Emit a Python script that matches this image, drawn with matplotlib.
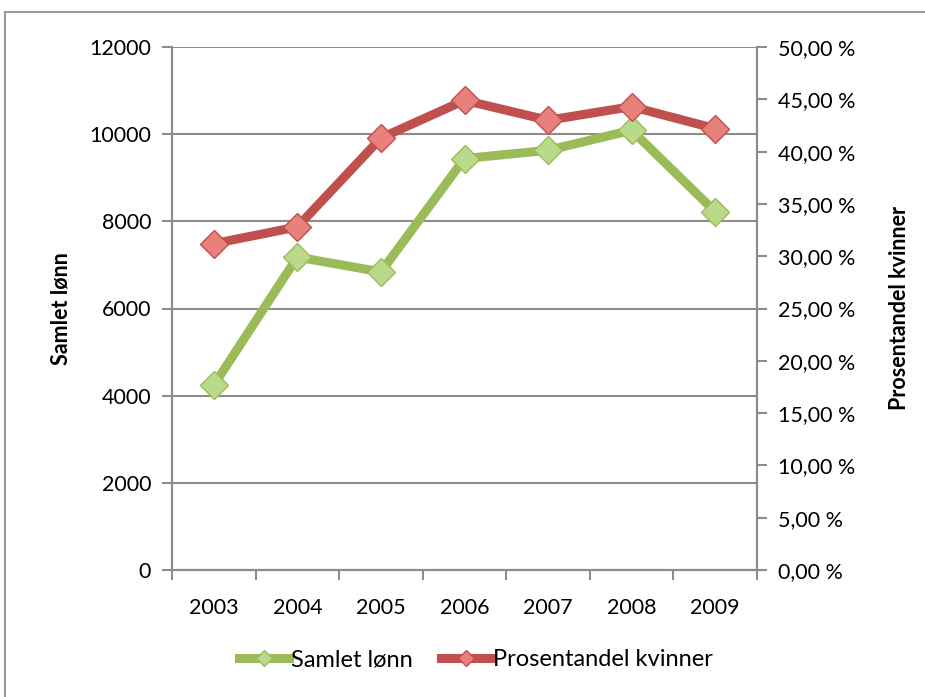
import matplotlib.pyplot as plt
from matplotlib.patches import Rectangle
from matplotlib.ticker import FuncFormatter, FixedLocator

years = ['2003', '2004', '2005', '2006', '2007', '2008', '2009']
samlet_lonn = [4240, 7180, 6840, 9440, 9630, 10090, 8220]
andel_kvinner = [31.2, 32.8, 41.3, 44.9, 43.0, 44.3, 42.2]

plt.rcParams['font.family'] = ['Lato', 'DejaVu Sans']

green = '#9BBB59'
green_face = '#B9D98B'
red = '#C0504D'
red_face = '#E8807C'
grid_col = '#8C8C8C'

fig = plt.figure(figsize=(9.25, 6.97), dpi=100)
# outer chart border
fig.patches.append(Rectangle((5 / 925, -0.1), 1.2, 1.1 - 12 / 697, transform=fig.transFigure,
                             fill=False, edgecolor='#9A9A9A', linewidth=1.5))

ax = fig.add_axes([172 / 925, 1 - 570 / 697, 585 / 925, 523 / 697])
ax2 = ax.twinx()

x = list(range(len(years)))
ax.plot(x, samlet_lonn, color=green, lw=6.5, marker='D', markersize=14,
        markerfacecolor=green_face, markeredgecolor=green, markeredgewidth=1, zorder=3,
        label='Samlet lønn', solid_joinstyle='round')
ax2.plot(x, andel_kvinner, color=red, lw=6.5, marker='D', markersize=14,
         markerfacecolor=red_face, markeredgecolor=red, markeredgewidth=1, zorder=3,
         label='Prosentandel kvinner', solid_joinstyle='round')

ax.set_xlim(-0.5, 6.5)
ax.set_ylim(0, 12000)
ax2.set_ylim(0, 50)
ax.set_yticks(range(0, 12001, 2000))
ax2.set_yticks(range(0, 51, 5))
ax2.yaxis.set_major_formatter(FuncFormatter(lambda v, p: f'{v:.2f} %'.replace('.', ',')))

ax.set_xticks(x)
ax.set_xticklabels(years)
ax.xaxis.set_minor_locator(FixedLocator([i - 0.5 for i in range(8)]))
ax.tick_params(axis='x', which='major', length=0, pad=20, labelsize=15.5)
ax.tick_params(axis='x', which='minor', length=7, width=1.5, color=grid_col, direction='out')
ax.tick_params(axis='y', length=7, width=1.5, color=grid_col, labelsize=15.5, pad=8)
ax2.tick_params(axis='y', length=7, width=1.5, color=grid_col, labelsize=15.5, pad=8)

ax.grid(axis='y', color=grid_col, lw=1.5)
ax.set_axisbelow(True)
for a in (ax, ax2):
    a.spines['top'].set_visible(False)
    for s in ('left', 'right', 'bottom'):
        a.spines[s].set_color(grid_col)
        a.spines[s].set_linewidth(1.5)

ax.set_ylabel('Samlet lønn', fontsize=15.5, fontweight='bold', labelpad=13)
ax2.set_ylabel('Prosentandel kvinner', fontsize=15.5, fontweight='bold', rotation=90, labelpad=24)

h1, l1 = ax.get_legend_handles_labels()
h2, l2 = ax2.get_legend_handles_labels()
fig.legend(h1 + h2, l1 + l2, loc='center', bbox_to_anchor=(0.515, 1 - 660 / 697), ncol=2,
           frameon=False, fontsize=17, handlelength=2.1, handletextpad=0.1, columnspacing=1.2,
           markerscale=0.6)

fig.savefig('out.png', dpi=100)
